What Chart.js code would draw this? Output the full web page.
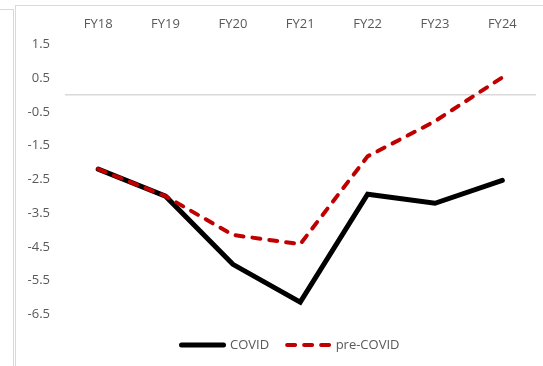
<!DOCTYPE html>
<html>
<head>
<meta charset="utf-8">
<script src="https://cdn.jsdelivr.net/npm/chart.js@4"></script>
<style>
html,body{margin:0;padding:0;background:#fff;}
#wrap{position:relative;width:543px;height:366px;overflow:hidden;}
#f1{position:absolute;left:0;top:9px;width:13px;height:400px;border-top:1px solid #d9d9d9;border-right:1px solid #d9d9d9;}
#f2{position:absolute;left:15px;top:5px;width:600px;height:400px;border-top:1px solid #d9d9d9;border-left:1px solid #d9d9d9;}
canvas{position:absolute;left:0;top:0;}
</style>
</head>
<body>
<div id="wrap">
<div id="f1"></div>
<div id="f2"></div>
<canvas id="c" width="543" height="366"></canvas>
</div>
<script>
const categories = ['FY18','FY19','FY20','FY21','FY22','FY23','FY24'];
const covid = [-2.2, -3.0, -5.02, -6.14, -2.94, -3.21, -2.53];
const preCovid = [-2.2, -3.0, -4.15, -4.42, -1.82, -0.78, 0.52];
const yMin = -6.5, yMax = 1.5, yStep = 1;

const FONT = {family: '"Open Sans", "Noto Sans", sans-serif', size: 13};
const GRAY = '#595959';

// shift the centred legend block to match the reference placement
const legendShift = {
  id: 'legendShift',
  afterLayout(chart) {
    if (chart.legend) { chart.legend.left += 15; chart.legend.right += 15; }
  }
};

new Chart(document.getElementById('c'), {
  type: 'line',
  data: {
    labels: categories,
    datasets: [
      {label: 'COVID', data: covid, borderColor: '#000000', backgroundColor: '#000000', order: 2,
       borderWidth: 5, pointRadius: 0, borderCapStyle: 'round', borderJoinStyle: 'miter', tension: 0},
      {label: 'pre-COVID', data: preCovid, borderColor: '#C00000', backgroundColor: '#C00000', order: 1,
       borderWidth: 4, borderDash: [8, 9], borderCapStyle: 'round', pointRadius: 0, tension: 0}
    ]
  },
  plugins: [legendShift],
  options: {
    responsive: false,
    animation: false,
    devicePixelRatio: 1,
    layout: {padding: {left: 15, right: 7, top: 17, bottom: 4.5}},
    plugins: {
      tooltip: {enabled: false},
      legend: {
        position: 'bottom',
        title: {display: true, text: '', font: {size: 1}, padding: {top: 5, bottom: 0}},
        labels: {
          usePointStyle: true, pointStyle: 'line', pointStyleWidth: 42,
          padding: 18, color: GRAY, font: FONT,
          sort: (a, b) => a.datasetIndex - b.datasetIndex,
          generateLabels: (chart) => Chart.defaults.plugins.legend.labels.generateLabels(chart).map((l) => {
            const ds = chart.data.datasets[l.datasetIndex];
            l.lineDash = ds.borderDash || [];
            l.lineWidth = ds.borderWidth;
            l.lineCap = 'round';
            l.strokeStyle = ds.borderColor;
            return l;
          })
        }
      }
    },
    scales: {
      x: {
        position: 'top',
        offset: true,
        afterFit: (s) => { s.height = 27.3; },
        grid: {display: false, drawTicks: false},
        border: {display: false},
        ticks: {color: GRAY, font: FONT, padding: 12.7, maxRotation: 0}
      },
      y: {
        min: yMin, max: yMax,
        afterFit: (s) => { s.width = 49.5; },
        afterBuildTicks: (s) => {
          if (!s.ticks.some(t => t.value === 0)) s.ticks.push({value: 0});
          s.ticks.sort((a, b) => a.value - b.value);
        },
        ticks: {stepSize: yStep, color: GRAY, font: FONT, padding: 14.5,
                callback: (v) => v === 0 ? '' : v.toFixed(1)},
        grid: {drawTicks: false, lineWidth: 1.5,
               color: (ctx) => (ctx.tick && ctx.tick.value === 0) ? '#d9d9d9' : 'rgba(0,0,0,0)'},
        border: {display: false}
      }
    }
  }
});
</script>
</body>
</html>
